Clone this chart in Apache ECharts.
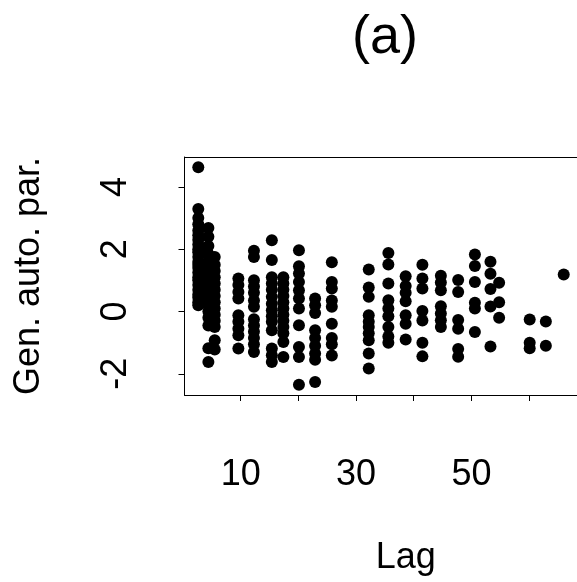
<!DOCTYPE html>
<html lang="en">
<head>
<meta charset="utf-8">
<title>(a) Gen. auto. par. vs Lag</title>
<style>
  html, body { margin: 0; padding: 0; background: #fff; }
  #chart { width: 577px; height: 582px; }
</style>
<script src="https://cdn.jsdelivr.net/npm/echarts@6/dist/echarts.min.js"></script>
</head>
<body>
<div id="chart"></div>
<script>
// lag position of each column of points
var lags = [2.65, 4.4, 5.5, 9.6, 12.3, 15.4, 17.4, 20.1, 22.9, 25.8, 32.2,
            35.6, 38.6, 41.5, 44.7, 47.7, 50.6, 53.3, 54.8, 60.1, 62.9, 66];

// generalised autocorrelation parameters (same order as lags)
var parByLag = [
  [4.63, 3.29, 3.0, 2.8, 2.6, 2.45, 2.3, 2.15, 2.0, 1.9, 1.75, 1.6, 1.5, 1.4, 1.25, 1.1, 1.0, 0.85, 0.7, 0.55, 0.45, 0.3, 0.2],
  [2.68, 2.4, 2.1, 1.85, 1.6, 1.4, 1.2, 1.0, 0.8, 0.6, 0.4, 0.2, 0.0, -0.2, -0.45, -1.18, -1.62],
  [1.75, 1.5, 1.3, 1.1, 0.9, 0.7, 0.5, 0.3, 0.1, -0.1, -0.3, -0.5, -0.92, -1.22],
  [1.06, 0.85, 0.63, 0.42, -0.12, -0.33, -0.55, -0.76, -1.19],
  [1.95, 1.75, 1.0, 0.8, 0.6, 0.35, 0.15, -0.25, -0.45, -0.65, -0.85, -1.05, -1.3],
  [2.29, 1.65, 1.1, 0.9, 0.7, 0.47, 0.25, 0.04, -0.15, -0.33, -0.6, -1.19, -1.4, -1.62],
  [1.1, 0.9, 0.7, 0.5, 0.3, 0.1, -0.1, -0.3, -0.5, -0.7, -0.98, -1.46],
  [1.97, 1.45, 1.22, 0.95, 0.68, 0.42, 0.1, -0.44, -1.14, -1.46, -2.35],
  [0.42, 0.2, -0.05, -0.6, -0.85, -1.1, -1.35, -1.55, -2.26],
  [1.58, 0.95, 0.74, 0.35, 0.15, -0.39, -0.85, -1.05, -1.41],
  [1.35, 0.77, 0.47, -0.12, -0.33, -0.5, -0.7, -0.92, -1.35, -1.83],
  [1.88, 1.51, 0.9, 0.36, 0.1, -0.15, -0.5, -0.8, -1.0],
  [1.13, 0.82, 0.6, 0.33, -0.12, -0.39, -0.9],
  [1.5, 1.06, 0.74, 0.02, -0.29, -1.0, -1.44],
  [1.15, 0.93, 0.68, 0.17, -0.06, -0.28, -0.5],
  [1.01, 0.63, -0.27, -0.55, -1.2, -1.45],
  [1.83, 1.46, 0.95, 0.28, 0.1, -0.66],
  [1.6, 1.21, 0.72, 0.16, -1.12],
  [0.92, 0.3, -0.2],
  [-0.26, -1.0, -1.18],
  [-0.32, -1.1],
  [1.19]
];

var xTicks = [10, 20, 30, 40, 50, 60];
var xLabels = [10, 30, 50];
var yTicks = [-2, 0, 2, 4];

var points = [];
lags.forEach(function (lag, i) {
  parByLag[i].forEach(function (v) { points.push([lag, v]); });
});

var font = '"Liberation Sans", Arial, sans-serif';
var black = { color: '#000', width: 1 };
var chart = echarts.init(document.getElementById('chart'));
chart.setOption({
  backgroundColor: '#fff',
  animation: false,
  title: {
    text: '(a)',
    left: 347,
    top: 6,
    textStyle: { fontFamily: font, fontSize: 54, fontWeight: 'normal', color: '#000' }
  },
  // plot box runs past the right edge of the page, so no right border
  grid: { left: 184.5, top: 157, bottom: 187, right: 0 },
  xAxis: [{
    type: 'value',
    min: 0.26, max: 68.3,
    name: 'Lag',
    nameLocation: 'middle',
    nameGap: 145,
    nameTextStyle: { fontFamily: font, fontSize: 36, color: '#000', padding: [0, 0, 0, 50] },
    splitLine: { show: false },
    axisLine: { show: true, onZero: false, lineStyle: black },
    axisTick: { show: true, length: 6, lineStyle: black, customValues: xTicks },
    axisLabel: { fontFamily: font, fontSize: 36, color: '#000', margin: 62, customValues: xLabels }
  }, {
    type: 'value',
    position: 'top',
    min: 0.26, max: 68.3,
    splitLine: { show: false },
    axisLine: { show: true, onZero: false, lineStyle: black },
    axisTick: { show: false },
    axisLabel: { show: false }
  }],
  yAxis: {
    type: 'value',
    min: -2.68, max: 4.96,
    name: 'Gen. auto. par.',
    nameLocation: 'middle',
    nameRotate: 90,
    nameGap: 137,
    nameTextStyle: { fontFamily: font, fontSize: 36, color: '#000' },
    splitLine: { show: false },
    axisLine: { show: true, onZero: false, lineStyle: black },
    axisTick: { show: true, length: 6, lineStyle: black, customValues: yTicks },
    axisLabel: { fontFamily: font, fontSize: 36, color: '#000', margin: 50, rotate: 90, customValues: yTicks }
  },
  series: [{
    type: 'scatter',
    data: points,
    symbol: 'circle',
    symbolSize: 12,
    itemStyle: { color: '#000', opacity: 1 },
    silent: true
  }]
});
</script>
</body>
</html>
